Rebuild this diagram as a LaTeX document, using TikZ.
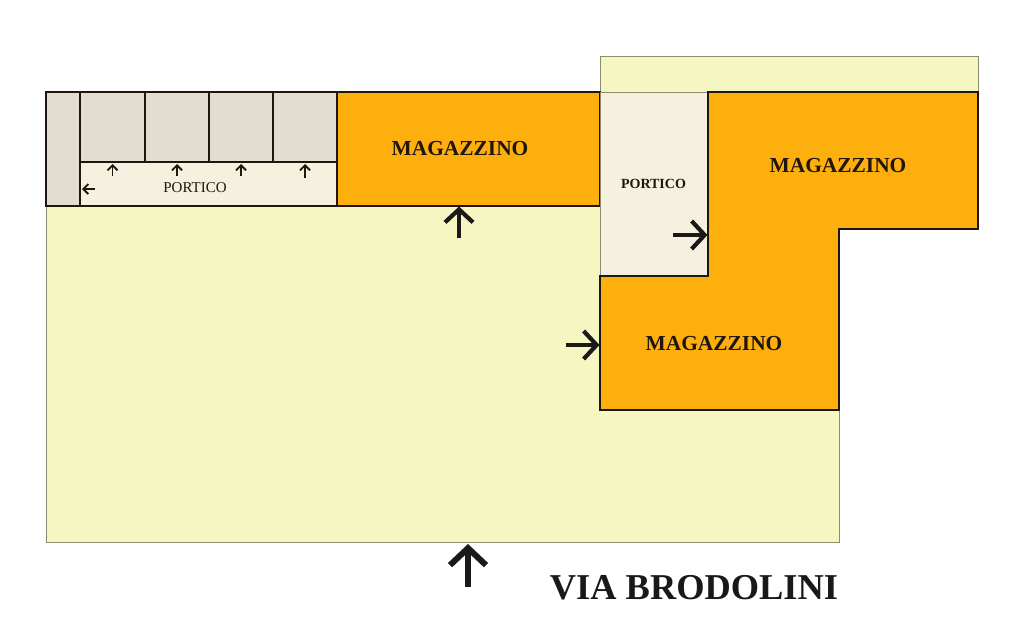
\documentclass[tikz,border=0pt]{standalone}
\usepackage{fontspec}
\setmainfont{Liberation Serif}
\usetikzlibrary{arrows.meta}
\definecolor{yardcol}{HTML}{F6F6C2}
\definecolor{storecol}{HTML}{FDB00D}
\definecolor{roomcol}{HTML}{E3DDD0}
\definecolor{porchcol}{HTML}{F6F0DF}
\definecolor{wallcol}{HTML}{21160F}
\definecolor{edgecol}{HTML}{8C8C70}
\begin{document}
\begin{tikzpicture}[
			x=1pt,y=-1pt,
			every node/.style={
				rectangle,
				inner sep=0pt,
				outer sep=0pt,
				align=center,
			},
			area/.style={
				draw=edgecol,
				line width=0.8pt,
				fill=yardcol,
			},
			room/.style={
				draw=wallcol,
				line width=2pt,
				fill=roomcol,
			},
			store/.style={
				draw=wallcol,
				line width=2pt,
				fill=storecol,
			},
			label/.style={
				font=\bfseries\fontsize{21.4}{21.4}\selectfont,
				text=wallcol,
			},
			small arrow/.style={
				-{Straight Barb[length=5pt,width=10pt]},
				line width=1.9pt,
				draw=wallcol,
				shorten >=2pt,
			},
			big arrow/.style={
				-{Straight Barb[length=13pt,width=28pt]},
				line width=4.2pt,
				draw=black!90,
				shorten >=0.5pt,
			},
			huge arrow/.style={
				-{Straight Barb[length=17pt,width=36pt]},
				line width=6pt,
				draw=black!90,
				shorten >=2pt,
			}]
		\useasboundingbox (0,0) rectangle (1024,634);
		\fill[white] (0,0) rectangle (1024,634);
		% outdoor areas
		\node[area,minimum width=793pt,minimum height=336pt](yard) at (442.5,374) {};
		\node[area,minimum width=378pt,minimum height=36pt](strip) at (789,74) {};
		% row on the left
		\node[room,minimum width=34pt,minimum height=114pt](side) at (63,149) {};
		\node[room,fill=porchcol,minimum width=257pt,minimum height=44pt](portico) at (208.5,184) {};
		\node[room,minimum width=65pt,minimum height=70pt](rooma) at (112.5,127) {};
		\node[room,minimum width=64pt,minimum height=70pt](roomb) at (177,127) {};
		\node[room,minimum width=64pt,minimum height=70pt](roomc) at (241,127) {};
		\node[room,minimum width=64pt,minimum height=70pt](roomd) at (305,127) {};
		\node[store,minimum width=263pt,minimum height=114pt](storea) at (468.5,149) {};
		% block on the right
		\node[area,fill=porchcol,minimum width=108pt,minimum height=184pt](porticob) at (654,184) {};
		\draw[store] (708,92) -- (978,92) -- (978,229) -- (839,229) -- (839,410)
			-- (600,410) -- (600,276) coordinate(storecorner) -- (708,276) -- cycle;
		% texts
		\node[label](labela) at (460,148.5) {MAGAZZINO};
		\node[label](labelb) at (838,165.5) {MAGAZZINO};
		\node[label](labelc) at (714,343.5) {MAGAZZINO};
		\node[font=\fontsize{15}{15}\selectfont,text=wallcol](labeld) at (195,187.5) {PORTICO};
		\node[font=\bfseries\fontsize{14}{14}\selectfont,text=wallcol](labele) at (653.5,183.5) {PORTICO};
		\node[font=\bfseries\fontsize{36.4}{36.4}\selectfont,text=black!90](street) at (694,588) {VIA BRODOLINI};
		% doors
		\coordinate(fromx) at (95,189);
		\coordinate(froma) at (112.5,176);
		\coordinate(fromb) at (177,176);
		\coordinate(fromc) at (241,176);
		\coordinate(fromd) at (305,178);
		\coordinate(frome) at (459,238);
		\coordinate(fromf) at (673,235);
		\coordinate(fromg) at (566,345);
		\coordinate(fromh) at (468,587);
		\draw[small arrow] (fromx) -- (fromx -| portico.west);
		\draw[small arrow] (froma) -- (rooma.south);
		\draw[small arrow] (fromb) -- (roomb.south);
		\draw[small arrow] (fromc) -- (roomc.south);
		\draw[small arrow] (fromd) -- (roomd.south);
		\draw[big arrow] (frome) -- (frome |- storea.south);
		\draw[big arrow] (fromf) -- (fromf -| porticob.east);
		\draw[big arrow] (fromg) -- (fromg -| storecorner);
		\draw[huge arrow] (fromh) -- (fromh |- yard.south);
	\end{tikzpicture}
\end{document}
